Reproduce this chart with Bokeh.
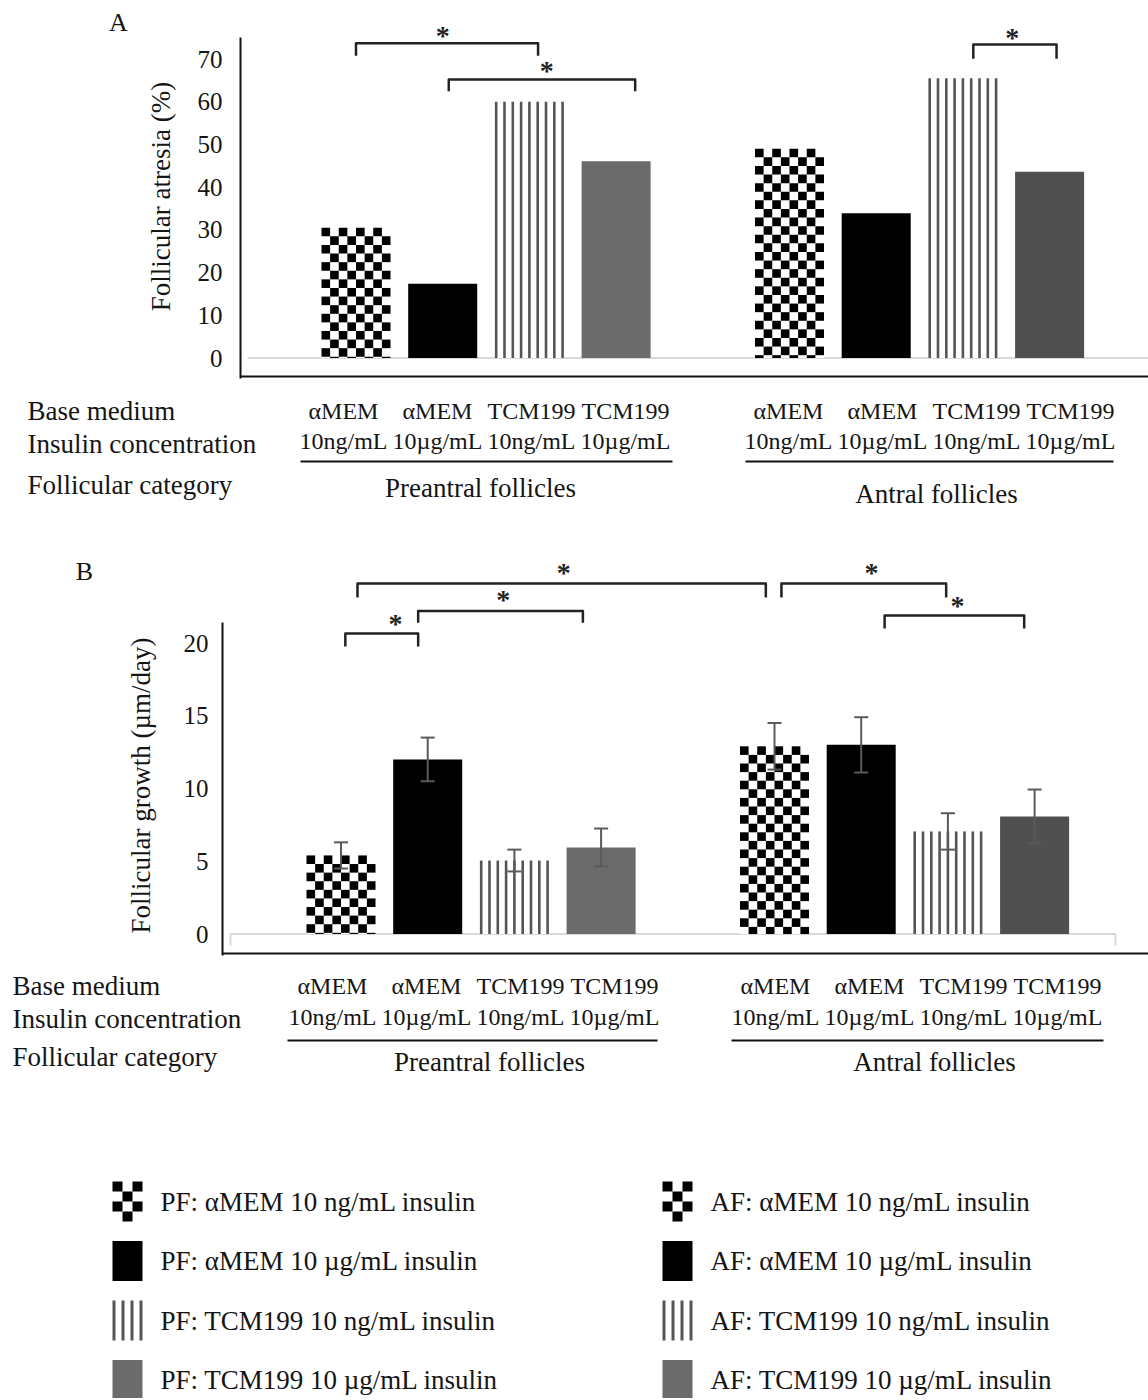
import math
from bokeh.plotting import figure
from bokeh.models import Range1d
from bokeh.core.properties import value
from bokeh.embed import file_html
from bokeh.resources import INLINE

# ---------------- data ----------------
group_names = ["Preantral follicles", "Antral follicles"]
group_prefix = ["PF", "AF"]
base_medium = ["αMEM", "αMEM", "TCM199", "TCM199"]
insulin_conc = ["10ng/mL", "10µg/mL", "10ng/mL", "10µg/mL"]
row_headers = ["Base medium", "Insulin concentration", "Follicular  category"]
legend_tail = ["αMEM 10 ng/mL  insulin", "αMEM 10 µg/mL  insulin",
               "TCM199  10 ng/mL  insulin", "TCM199  10 µg/mL  insulin"]

atresia_pf = [30.5, 17.4, 60.0, 46.1]
atresia_af = [49.0, 33.9, 65.5, 43.6]
atresia_ticks = [0, 10, 20, 30, 40, 50, 60, 70]

growth_pf = [5.4, 12.0, 5.05, 5.95]
growth_af = [12.9, 13.0, 7.05, 8.08]
growth_err_pf = [0.9, 1.5, 0.75, 1.3]
growth_err_af = [1.6, 1.9, 1.25, 1.85]
growth_ticks = [0, 5, 10, 15, 20]

# significance brackets (x in category slots, y in data units)
sigA_x0 = [0.0, 1.07, 7.12]
sigA_x1 = [2.1, 3.22, 8.08]
sigA_top = [73.7, 65.2, 73.4]
sigA_leg = [70.8, 62.5, 70.1]
sigA_star_x = [1.0, 2.2, 7.57]
sigA_star_y = [75.6, 67.4, 75.1]

sigB_x0 = [0.05, 0.89, 0.19, 5.08, 6.27]
sigB_x1 = [0.89, 2.79, 4.9, 6.98, 7.88]
sigB_top = [20.65, 22.2, 24.09, 24.09, 21.89]
sigB_leg = [19.76, 21.4, 23.13, 23.13, 21.0]
sigB_star_x = [0.63, 1.87, 2.57, 6.12, 7.11]
sigB_star_y = [21.35, 23.0, 24.85, 24.85, 22.55]

# ---------------- styles / layout ----------------
W, H = 1148, 1398
FONT = "Liberation Serif"
TXT = "#151515"
GROUP_GAP = 5          # slot index of first bar of second group
BAR_W = 0.796          # in slot units
GRAY_PF = "#6b6b6b"
GRAY_AF = "#505050"
LINE_GRAY = "#555555"
CELL_PX = 8.6          # checker cell size
STRIPE_N, STRIPE_W = 9, 2.6
fills = [("white", "white"), ("black", "black"), ("white", "white"), (GRAY_PF, GRAY_AF)]


class Geo:
    """panel geometry: slot 0 centre / pitch (px), y zero / px per unit"""
    def __init__(self, x0, pitch, y0, ppu):
        self.x0, self.pitch, self.y0, self.ppu = x0, pitch, y0, ppu

    def dx(self, px):
        return (px - self.x0) / self.pitch

    def dy(self, py):
        return (self.y0 - py) / self.ppu


GA = Geo(x0=355.5, pitch=86.7, y0=357.5, ppu=4.27)
GB = Geo(x0=340.5, pitch=86.7, y0=933.5, ppu=14.55)

p = figure(width=W, height=H, x_range=Range1d(0, W), y_range=Range1d(H, 0),
           x_axis_type=None, y_axis_type=None, output_backend="svg",
           toolbar_location=None, min_border=0)
p.outline_line_color = None
p.background_fill_color = "white"
p.border_fill_color = "white"
p.extra_x_ranges = {"A": Range1d(GA.dx(0), GA.dx(W)), "B": Range1d(GB.dx(0), GB.dx(W))}
p.extra_y_ranges = {"A": Range1d(GA.dy(H), GA.dy(0)), "B": Range1d(GB.dy(H), GB.dy(0))}


def txt(x, y, s, align="left", size="27px", angle=0.0, color=TXT, **kw):
    p.text(x=x, y=y, text=s, text_font=value(FONT), text_font_size=size, angle=angle,
           text_align=align, text_baseline="middle", text_color=color, **kw)


def panel(name, G, pf, af, ticks, ylabel, axis_x, axis_top, frame_bottom, tick_right,
          title_xy, base_x0, base_tick, err=None):
    R = dict(x_range_name=name, y_range_name=name)
    # y axis (line + tick labels + title)
    p.segment(x0=[axis_x], y0=[axis_top], x1=[axis_x], y1=[frame_bottom + 2],
              line_color="#111111", line_width=2)
    txt([tick_right] * len(ticks), ticks, [str(t) for t in ticks], align="right", size="25px",
        y_range_name=name)
    txt([title_xy[0]], [title_xy[1]], [ylabel], align="center", size="27px", angle=math.pi / 2)
    # bottom frame line
    p.segment(x0=[axis_x], y0=[frame_bottom], x1=[W], y1=[frame_bottom],
              line_color="#111111", line_width=2)
    # category baseline (light gray)
    bx0 = G.dx(base_x0[0])
    bx1 = G.dx(base_x0[1])
    if base_tick:
        bt = G.dy(base_tick)
        p.multi_line(xs=[[bx0, bx0, bx1, bx1]], ys=[[bt, 0, 0, bt]], line_color="#d9d9d9",
                     line_width=2, **R)
    else:
        p.segment(x0=[bx0], y0=[0], x1=[bx1], y1=[0], line_color="#d9d9d9", line_width=2, **R)

    # bars
    for j in range(4):
        xs = [j, GROUP_GAP + j]
        tops = [pf[j], af[j]]
        p.vbar(x=xs, top=tops, bottom=0, width=BAR_W, fill_color=list(fills[j]),
               line_color=None, **R)
        if j == 0:   # checkerboard fill
            cw, ch = BAR_W / 8, CELL_PX / G.ppu
            L, Rr, T, B = [], [], [], []
            for x, t in zip(xs, tops):
                n_rows = int(math.ceil(t / ch))
                for r in range(n_rows):
                    for c in range(8):
                        if (r + c) % 2 == 0:
                            left = x - BAR_W / 2 + c * cw
                            L.append(left)
                            Rr.append(left + cw)
                            T.append(t - r * ch)
                            B.append(max(0.0, t - (r + 1) * ch))
            p.quad(left=L, right=Rr, top=T, bottom=B, fill_color="black", line_color=None, **R)
        if j == 2:   # vertical stripes fill
            bar_px = BAR_W * G.pitch
            sx, sy0, sy1 = [], [], []
            for x, t in zip(xs, tops):
                left = x - BAR_W / 2
                for k in range(STRIPE_N):
                    off = (STRIPE_W / 2 + k * (bar_px - STRIPE_W) / (STRIPE_N - 1)) / G.pitch
                    sx.append(left + off)
                    sy0.append(0)
                    sy1.append(t)
            p.segment(x0=sx, y0=sy0, x1=sx, y1=sy1, line_color=LINE_GRAY,
                      line_width=STRIPE_W, line_cap="butt", **R)

    # error bars
    if err is not None:
        epf, eaf = err
        ex = list(range(4)) + [GROUP_GAP + j for j in range(4)]
        ev = pf + af
        ee = epf + eaf
        up = [v + e for v, e in zip(ev, ee)]
        lo = [v - e for v, e in zip(ev, ee)]
        cap = 7 / G.pitch
        col = "#5a5a5a"
        p.segment(x0=ex, y0=lo, x1=ex, y1=up, line_color=col, line_width=2, **R)
        p.segment(x0=[x - cap for x in ex], y0=up, x1=[x + cap for x in ex], y1=up,
                  line_color=col, line_width=2, **R)
        p.segment(x0=[x - cap for x in ex], y0=lo, x1=[x + cap for x in ex], y1=lo,
                  line_color=col, line_width=2, **R)


def brackets(name, x0, x1, top, leg, sx, sy):
    R = dict(x_range_name=name, y_range_name=name)
    xs = [[a, a, b, b] for a, b in zip(x0, x1)]
    ys = [[l, t, t, l] for t, l in zip(top, leg)]
    p.multi_line(xs=xs, ys=ys, line_color="#222222", line_width=2.5, line_join="round", **R)
    p.text(x=sx, y=sy, text=["*"] * len(sx), text_font=value(FONT), text_font_size="28px",
           text_font_style="bold", text_align="center", text_baseline="middle",
           text_color="#222222", **R)


def table(row_x, row_y, cat_y, cat_x0, cat_pitch, line_y, line_x, grp_xy):
    txt([row_x] * 3, row_y, row_headers)
    for g in range(2):
        cx = [cat_x0[g] + cat_pitch * j for j in range(4)]
        txt(cx, [cat_y[0]] * 4, base_medium, align="center", size="24px")
        txt(cx, [cat_y[1]] * 4, insulin_conc, align="center", size="24px")
        p.segment(x0=[line_x[g][0]], y0=[line_y], x1=[line_x[g][1]], y1=[line_y],
                  line_color="#111111", line_width=2.2)
        txt([grp_xy[g][0]], [grp_xy[g][1]], [group_names[g]], align="center")


# ---------------- panel A ----------------
panel("A", GA, atresia_pf, atresia_af, atresia_ticks, "Follicular atresia (%)",
      axis_x=240, axis_top=37, frame_bottom=376, tick_right=222, title_xy=(160, 196),
      base_x0=(247, W + 10), base_tick=None)
brackets("A", sigA_x0, sigA_x1, sigA_top, sigA_leg, sigA_star_x, sigA_star_y)
txt([118], [22], ["A"], align="center", size="26px")
table(row_x=27, row_y=[410, 443, 484], cat_y=(410, 440), cat_x0=[343, 788], cat_pitch=94,
      line_y=461, line_x=[(300, 672), (745, 1113)], grp_xy=[(480, 487), (936, 493)])

# ---------------- panel B ----------------
panel("B", GB, growth_pf, growth_af, growth_ticks, "Follicular growth (µm/day)",
      axis_x=222, axis_top=622, frame_bottom=953, tick_right=208, title_xy=(140, 785),
      base_x0=(230, 1115), base_tick=945, err=(growth_err_pf, growth_err_af))
brackets("B", sigB_x0, sigB_x1, sigB_top, sigB_leg, sigB_star_x, sigB_star_y)
txt([84], [571], ["B"], align="center", size="26px")
table(row_x=12, row_y=[985, 1018, 1056], cat_y=(985, 1016), cat_x0=[332, 775], cat_pitch=94,
      line_y=1040, line_x=[(287, 657), (731, 1103)], grp_xy=[(489, 1061), (934, 1061)])

# ---------------- legend (two columns) ----------------
LEG_ROW0, LEG_PITCH, SW_W, SW_H = 1201, 59.5, 30, 40
for g, sw_left in enumerate([112, 662]):
    ys = [LEG_ROW0 + LEG_PITCH * j for j in range(4)]
    txt([sw_left + 48] * 4, ys, [group_prefix[g] + ": " + t for t in legend_tail])
    # checker swatch
    cy = ys[0] - SW_H / 2
    L, Rr, T, B = [], [], [], []
    for r in range(4):
        for c in range(3):
            if (r + c) % 2 == 0:
                L.append(sw_left + c * 10)
                Rr.append(sw_left + (c + 1) * 10)
                T.append(cy + r * 10)
                B.append(cy + (r + 1) * 10)
    p.quad(left=L, right=Rr, top=T, bottom=B, fill_color="black", line_color=None)
    # black swatch
    p.quad(left=[sw_left], right=[sw_left + SW_W], top=[ys[1] - SW_H / 2], bottom=[ys[1] + SW_H / 2],
           fill_color="black", line_color=None)
    # stripes swatch
    sxs = [sw_left + 1.5 + 9 * k for k in range(4)]
    p.segment(x0=sxs, y0=[ys[2] - SW_H / 2] * 4, x1=sxs, y1=[ys[2] + SW_H / 2] * 4,
              line_color=LINE_GRAY, line_width=3, line_cap="butt")
    # gray swatch
    p.quad(left=[sw_left], right=[sw_left + SW_W], top=[ys[3] - SW_H / 2], bottom=[ys[3] + SW_H / 2],
           fill_color=GRAY_PF, line_color=None)

open("out.html", "w").write(file_html(p, INLINE))
